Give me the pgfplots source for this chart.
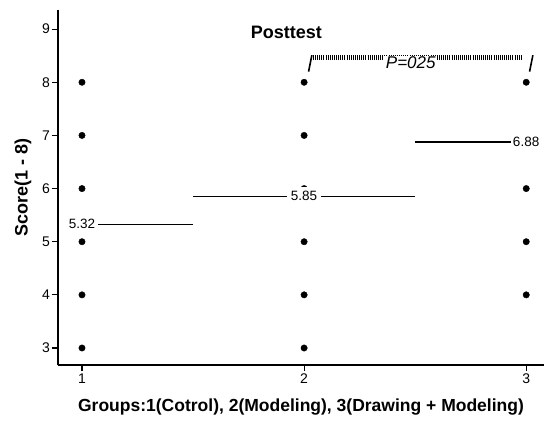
\documentclass[border=0pt]{standalone}
\usepackage{pgfplots}
\pgfplotsset{compat=1.18}
\usepackage{fontspec}
\setmainfont{Liberation Sans}
\begin{document}
\begin{tikzpicture}
\useasboundingbox (0,0) rectangle (544pt,424pt);
\begin{axis}[
  at={(58pt,59pt)}, anchor=south west,
  scale only axis, width=486pt, height=355pt,
  xmin=0.892, xmax=3.08, ymin=2.68, ymax=9.36,
  axis x line*=bottom, axis y line*=left,
  axis line style={line width=1.8pt, -},
  xtick={1,2,3}, ytick={3,4,5,6,7,8,9},
  tick align=outside, major tick length=6pt,
  tick style={line width=1.1pt, black},
  tick label style={font=\fontsize{14}{16}\selectfont},
  xticklabel style={yshift=1pt},
  yticklabel style={xshift=1.5pt},
  /pgf/number format/assume math mode=true,
  xlabel={\bfseries Groups:1(Cotrol), 2(Modeling), 3(Drawing + Modeling)},
  ylabel={\bfseries Score(1 - 8)},
  xlabel style={font=\fontsize{17.5}{19}\selectfont, yshift=-9pt},
  ylabel style={font=\fontsize{18}{20}\selectfont, yshift=4pt},
  clip=false,
]
\addplot[only marks, mark=*, mark size=3.2pt, black] coordinates {
 (1,3) (1,4) (1,5) (1,6) (1,7) (1,8)
 (2,3) (2,4) (2,5) (2,6) (2,7) (2,8)
 (3,4) (3,5) (3,6) (3,8)
};
\addplot[black, line width=1.5pt] coordinates {(1.07,5.32) (1.5,5.32)};
\addplot[black, line width=1.5pt] coordinates {(1.5,5.85) (2.5,5.85)};
\addplot[black, line width=1.5pt] coordinates {(2.5,6.88) (2.93,6.88)};
\addplot[draw=none, mark=none, nodes near coords={5.85},
  every node near coord/.style={anchor=center, fill=white, inner sep=4pt, text=black, font=\fontsize{13.5}{15}\selectfont}]
  coordinates {(2,5.865)};
\node[anchor=east, inner sep=1pt, font=\fontsize{13.5}{15}\selectfont] at (axis cs:1.065,5.33) {5.32};
\node[anchor=west, inner sep=1pt, font=\fontsize{13.5}{15}\selectfont] at (axis cs:2.935,6.88) {6.88};
\draw[black, line width=4.5pt, dash pattern=on 0.7pt off 1.4pt] (axis cs:2.04,8.47) -- (axis cs:2.98,8.47);
\draw[black, line width=1.6pt] (axis cs:2.035,8.51) -- (axis cs:2.02,8.2);
\draw[black, line width=1.6pt] (axis cs:3.03,8.51) -- (axis cs:3.015,8.2);
\node[fill=white, inner sep=1.5pt, font=\fontsize{17}{19}\selectfont\itshape] at (axis cs:2.48,8.36) {P=025};
\node[font=\fontsize{18}{20}\selectfont\bfseries] at (axis cs:1.92,8.94) {Posttest};
\end{axis}
\end{tikzpicture}
\end{document}
